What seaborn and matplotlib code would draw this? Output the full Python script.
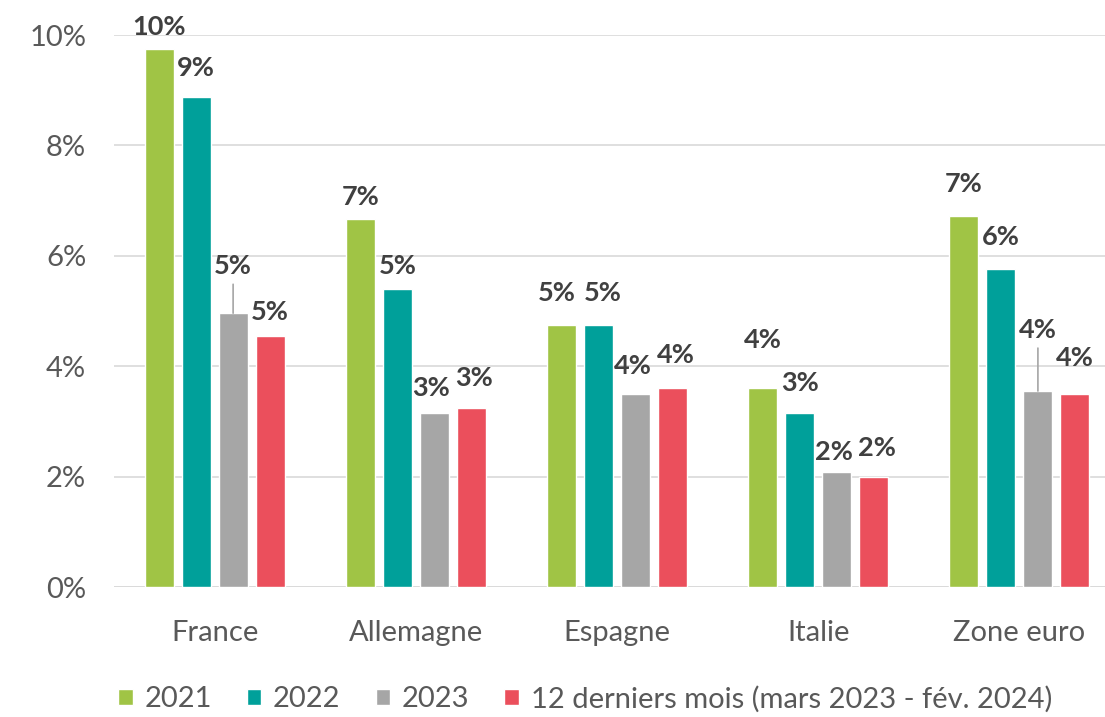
import matplotlib
matplotlib.use("Agg")
import matplotlib.pyplot as plt
import seaborn as sns
import pandas as pd

pays = ["France", "Allemagne", "Espagne", "Italie", "Zone euro"]
periodes = ["2021", "2022", "2023", "12 derniers mois (mars 2023 - fév. 2024)"]
v2021 = [9.75, 6.67, 4.75, 3.60, 6.72]
v2022 = [8.88, 5.40, 4.75, 3.15, 5.76]
v2023 = [4.96, 3.15, 3.50, 2.08, 3.55]
v12m = [4.55, 3.24, 3.60, 1.99, 3.50]
couleurs = ["#A0C445", "#00A09A", "#A6A6A6", "#EB4F5C"]

# hauteur du libellé au-dessus de la barre (pixels), par période puis par pays
decalage = [
    [22, 22, 32, 48, 32],
    [29, 23, 32, 30, 32],
    [47, 25, 28, 20, 61],
    [24, 30, 33, 29, 36],
]
# petits décalages horizontaux pour que les libellés ne se touchent pas
decalage_x = {(0, 2): -5, (1, 2): 4, (2, 2): -3, (3, 2): 3, (2, 3): -3, (3, 3): 3,
              (2, 1): -3, (3, 1): 3}
avec_trait = [(2, 0), (2, 4)]

df = pd.DataFrame({
    "pays": pays * 4,
    "periode": sum([[p] * len(pays) for p in periodes], []),
    "valeur": v2021 + v2022 + v2023 + v12m,
})

sns.set_theme(style="white")
plt.rcParams["font.family"] = ["Lato", "DejaVu Sans"]

fig = plt.figure(figsize=(11.05, 7.17), dpi=100)
ax = fig.add_axes([114 / 1105, 1 - 587 / 717, (1120 - 114) / 1105, (587 - 35) / 717])

sns.barplot(data=df, x="pays", y="valeur", hue="periode", palette=couleurs,
            width=0.736, gap=0.22, saturation=1, ax=ax, legend=True)

ax.set_ylim(0, 10)
ax.set_yticks(range(0, 11, 2))
ax.set_yticklabels([f"{t}%" for t in range(0, 11, 2)])
ax.set_xlabel("")
ax.set_ylabel("")
ax.yaxis.grid(True, color="#D9D9D9", linewidth=1.2)
ax.set_axisbelow(True)
for s in ax.spines.values():
    s.set_visible(False)
ax.axhline(0, color="#D9D9D9", linewidth=1.2, zorder=0)
ax.tick_params(axis="both", length=0, labelsize=21, colors="#595959")
ax.tick_params(axis="x", pad=24)
ax.tick_params(axis="y", pad=20)

for i, cont in enumerate(ax.containers):
    for j, bar in enumerate(cont):
        x = bar.get_x() + bar.get_width() / 2
        h = bar.get_height()
        props = None
        if (i, j) in avec_trait:
            props = dict(arrowstyle="-", color="#A6A6A6", lw=1.2, shrinkA=2, shrinkB=0)
        ax.annotate(f"{round(h):.0f}%", xy=(x, h),
                    xytext=(decalage_x.get((i, j), 0), decalage[i][j]),
                    textcoords="offset pixels", ha="center", va="center",
                    fontsize=19.5, fontweight="bold", color="#404040",
                    arrowprops=props)

ax.get_legend().remove()
handles, labels = ax.get_legend_handles_labels()
fig.legend(handles, labels, loc="center", bbox_to_anchor=(585 / 1105, 1 - 699 / 717),
           ncol=4, frameon=False, fontsize=21, handlelength=0.5, handleheight=0.5,
           handletextpad=0.4, columnspacing=1.2, labelcolor="#595959")

fig.savefig("out.png", dpi=100)
